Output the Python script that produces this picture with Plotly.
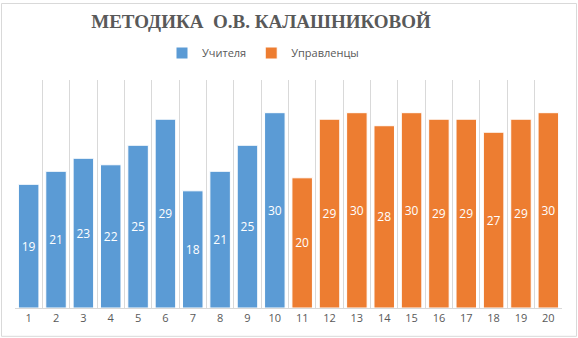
import plotly.graph_objects as go

categories = [str(i) for i in range(1, 21)]
teachers_x = categories[:10]
teachers = [19, 21, 23, 22, 25, 29, 18, 21, 25, 30]
managers_x = categories[10:]
managers = [20, 29, 30, 28, 30, 29, 29, 27, 29, 30]

W, H = 578, 338
L, R, T, B = 15, 16, 78, 30
label_font = dict(color="white", size=12, family="Open Sans, Liberation Sans, Arial")

fig = go.Figure()
fig.add_trace(go.Bar(
    x=teachers_x, y=teachers, name="Учителя",
    marker=dict(color="#5b9bd5", line=dict(color="white", width=1)),
    width=0.75, text=teachers, textposition="inside", insidetextanchor="middle",
    textfont=label_font, textangle=0,
))
fig.add_trace(go.Bar(
    x=managers_x, y=managers, name="Управленцы",
    marker=dict(color="#ed7d31", line=dict(color="white", width=1)),
    width=0.75, text=managers, textposition="inside", insidetextanchor="middle",
    textfont=label_font, textangle=0,
))

pw = W - L - R
ph = H - T - B
fig.add_shape(type="rect", xref="paper", yref="paper",
              x0=(1.5 - L) / pw, x1=(W - 1.5 - L) / pw,
              y0=-(B - 1.5) / ph, y1=(H - 1.5 - B) / ph,
              line=dict(color="#d9d9d9", width=1), layer="below")

fig.update_layout(
    width=W, height=H,
    margin=dict(l=L, r=R, t=T, b=B),
    paper_bgcolor="white", plot_bgcolor="white",
    barmode="overlay",
    title=dict(text="<b>МЕТОДИКА  О.В. КАЛАШНИКОВОЙ</b>",
               x=261 / W, xanchor="center", y=1 - 21 / H, yanchor="middle",
               font=dict(family="Liberation Serif, Times New Roman, serif", size=19, color="#595959")),
    legend=dict(orientation="h", x=263 / W, xanchor="center", y=1 - 53 / H, yanchor="middle",
                xref="container", yref="container",
                font=dict(family="Open Sans, Liberation Sans, Arial", size=11, color="#595959"),
                itemwidth=30, traceorder="normal"),
    showlegend=True,
    font=dict(family="Liberation Sans, Arial", color="#595959"),
)
fig.update_xaxes(type="category", categoryorder="array", categoryarray=categories,
                 tickson="boundaries", showgrid=True, gridcolor="#d9d9d9", gridwidth=1,
                 showline=True, linecolor="#d9d9d9", linewidth=1, ticks="",
                 tickfont=dict(size=11, color="#595959", family="Open Sans, Liberation Sans, Arial"),
                 range=[-0.5, 19.5])
fig.update_yaxes(range=[0, 35.1], showgrid=False, showticklabels=False, zeroline=False,
                 showline=False)

fig.write_html("out.html", config={"displayModeBar": False},
               post_script="document.body.style.margin='0';")
